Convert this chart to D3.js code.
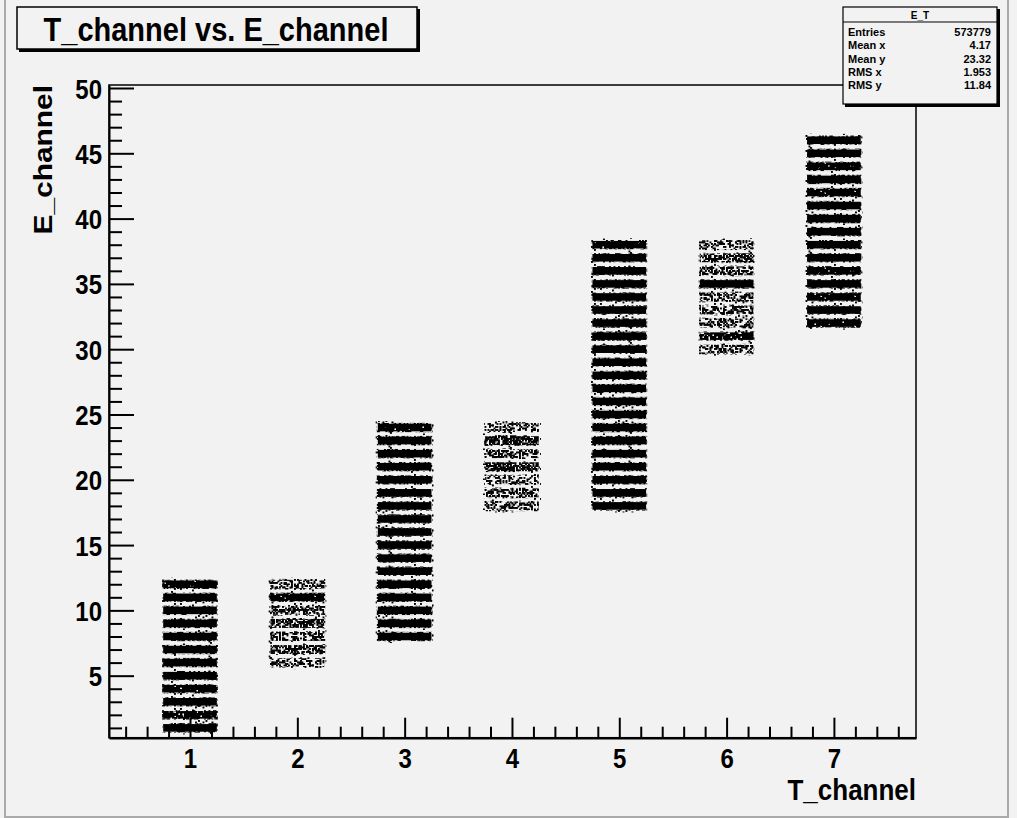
<!DOCTYPE html>
<html>
<head>
<meta charset="utf-8">
<script src="https://cdn.jsdelivr.net/npm/d3@7"></script>
<style>
  body { margin: 0; background: #f2f2f2; }
  svg { display: block; font-family: "Liberation Sans", Arial, sans-serif; font-weight: bold; }
</style>
</head>
<body>
<script>
// data
var tChannel = [1, 2, 3, 4, 5, 6, 7];
var eFirst = [1, 6, 8, 18, 18, 30, 32];       // lowest E_channel row of each column
// relative density of each E row (from eFirst upwards)
var densT1 = [1, 0.75, 1, 0.8, 1, 0.9, 1, 1, 1, 1, 1, 0.85];
var densT2 = [0.3, 0.5, 0.4, 0.55, 0.45, 0.85, 0.35];
var densT3 = [1, 1, 0.9, 1, 1, 0.9, 1, 1, 0.9, 1, 1, 1, 0.9, 1, 0.9, 1, 0.85];
var densT4 = [0.35, 0.4, 0.3, 0.55, 0.4, 0.6, 0.3];
var densT5 = [1, 1, 0.9, 1, 1, 1, 0.9, 1, 1, 1, 0.9, 1, 1, 1, 0.9, 1, 1, 0.9, 1, 1, 0.85];
var densT6 = [0.35, 0.7, 0.35, 0.4, 0.35, 0.9, 0.4, 0.5, 0.3];
var densT7 = [0.85, 1, 0.85, 1, 0.85, 1, 0.9, 1, 0.9, 1, 0.85, 1, 0.85, 1, 0.9];
var densities = [densT1, densT2, densT3, densT4, densT5, densT6, densT7];

var yMajor = [5, 10, 15, 20, 25, 30, 35, 40, 45, 50];
var xMajor = [1, 2, 3, 4, 5, 6, 7];

var statLabels = ["Entries", "Mean x", "Mean y", "RMS x", "RMS y"];
var statValues = ["573779", "4.17", "23.32", "1.953", "11.84"];

var W = 1017, H = 818;
var stretch = 1.15; // the picture is a bit taller than its fonts

var x = d3.scaleLinear().domain([0.245, 7.765]).range([109, 916]);
var y = d3.scaleLinear().domain([0.25, 50.23]).range([737.7, 85]);

var svg = d3.select("body").append("svg")
    .attr("width", W)
    .attr("height", H);

svg.append("rect").attr("width", W).attr("height", H).attr("fill", "#f2f2f2");
// canvas bevel
svg.append("rect")
    .attr("x", 5).attr("y", -3).attr("width", 1003).attr("height", 820)
    .attr("fill", "none").attr("stroke", "#aaa").attr("stroke-width", 2);

// speckle textures, one per density level
var defs = svg.append("defs");
function hash(i, j, s) {
  var v = Math.sin(i * 12.9898 + j * 78.233 + s * 37.719) * 43758.5453;
  return v - Math.floor(v);
}
var made = {};
function patternFor(level) {
  level = Math.round(level * 20) / 20;
  if (level >= 0.97) return "#000";
  var key = "p" + Math.round(level * 100);
  if (made[key]) return "url(#" + key + ")";
  made[key] = true;
  var g = level < 0.7 ? 1.5 : 2;
  var tw = 60, th = 15;
  var p = defs.append("pattern")
      .attr("id", key)
      .attr("patternUnits", "userSpaceOnUse")
      .attr("width", tw).attr("height", th);
  for (var i = 0; i < tw / g; i++) {
    for (var j = 0; j < th / g; j++) {
      if (hash(i, j, level * 10) < level) {
        p.append("rect").attr("x", i * g).attr("y", j * g)
          .attr("width", g + 0.4).attr("height", g + 0.4).attr("fill", "#000");
      }
    }
  }
  return "url(#" + key + ")";
}

var cells = [];
tChannel.forEach(function(t, k) {
  densities[k].forEach(function(d, r) {
    cells.push({t: t, e: eFirst[k] + r, d: d});
  });
});

// half heights of a row band: dense rows are tight, sparse ones spread out
function coreHalf(c) { return c.d >= 0.7 ? 0.29 : 0.34; }
function edgeHalf(c) { return coreHalf(c) + 0.07; }

var plot = svg.append("g");

// faint halo around each column
plot.selectAll("rect.halo")
    .data(tChannel)
    .enter()
    .append("rect")
    .attr("class", "halo")
    .attr("x", function(t) { return x(t - 0.27); })
    .attr("width", function(t) { return x(t + 0.27) - x(t - 0.27); })
    .attr("y", function(t, k) { return y(eFirst[k] + densities[k].length - 1 + 0.5); })
    .attr("height", function(t, k) { return y(eFirst[k] - 0.5) - y(eFirst[k] + densities[k].length - 0.5); })
    .attr("fill", patternFor(0.05));

// ragged edge of each row
plot.selectAll("rect.edge")
    .data(cells)
    .enter()
    .append("rect")
    .attr("class", "edge")
    .attr("x", function(c) { return x(c.t - 0.26); })
    .attr("width", function(c) { return x(c.t + 0.26) - x(c.t - 0.26); })
    .attr("y", function(c) { return y(c.e + edgeHalf(c)); })
    .attr("height", function(c) { return y(c.e - edgeHalf(c)) - y(c.e + edgeHalf(c)); })
    .attr("fill", function(c) { return patternFor(c.d * 0.3); });

// core of each row
plot.selectAll("rect.cell")
    .data(cells)
    .enter()
    .append("rect")
    .attr("class", "cell")
    .attr("x", function(c) { return x(c.t - 0.25); })
    .attr("width", function(c) { return x(c.t + 0.25) - x(c.t - 0.25); })
    .attr("y", function(c) { return y(c.e + coreHalf(c)); })
    .attr("height", function(c) { return y(c.e - coreHalf(c)) - y(c.e + coreHalf(c)); })
    .attr("fill", function(c) { return patternFor(c.d >= 0.7 ? Math.min(1, c.d + 0.08) : c.d); });

// frame
svg.append("rect")
    .attr("x", x.range()[0]).attr("y", y.range()[1])
    .attr("width", x.range()[1] - x.range()[0])
    .attr("height", y.range()[0] - y.range()[1])
    .attr("fill", "none").attr("stroke", "#000").attr("stroke-width", 1.5);

// y axis: minor then major ticks, pointing into the frame
var yMinor = d3.range(1, 51).filter(function(v) { return v % 5 !== 0; });
svg.append("g")
    .attr("transform", "translate(" + x.range()[0] + ",0)")
    .call(d3.axisLeft(y).tickValues(yMinor).tickSize(-13).tickSizeOuter(0).tickFormat(""))
    .call(function(g) { g.select(".domain").remove(); });
var yAx = svg.append("g")
    .attr("transform", "translate(" + x.range()[0] + ",0)")
    .call(d3.axisLeft(y).tickValues(yMajor).tickSize(-25).tickSizeOuter(0).tickPadding(7));
yAx.select(".domain").attr("stroke-width", 2);
yAx.selectAll("text")
    .attr("dy", null).attr("y", 0)
    .attr("font-size", 24).attr("font-weight", "bold")
    .attr("font-family", "Liberation Sans, Arial, sans-serif")
    .attr("transform", "translate(0,10) scale(1," + stretch + ")");

// x axis
var xMinor = d3.range(2, 39).map(function(v) { return v / 5; }).filter(function(v) { return Math.abs(v - Math.round(v)) > 0.01; });
svg.append("g")
    .attr("transform", "translate(0," + y.range()[0] + ")")
    .call(d3.axisBottom(x).tickValues(xMinor).tickSize(-11).tickSizeOuter(0).tickFormat(""))
    .call(function(g) { g.select(".domain").remove(); });
var xAx = svg.append("g")
    .attr("transform", "translate(0," + y.range()[0] + ")")
    .call(d3.axisBottom(x).tickValues(xMajor).tickSize(-20).tickSizeOuter(0));
xAx.select(".domain").attr("stroke-width", 2.5);
xAx.selectAll("text")
    .attr("dy", null).attr("y", 0)
    .attr("font-size", 24).attr("font-weight", "bold")
    .attr("font-family", "Liberation Sans, Arial, sans-serif")
    .attr("transform", "translate(0,30) scale(1," + stretch + ")");
svg.selectAll(".tick line").attr("stroke-width", 2);

// axis titles
svg.append("text")
    .attr("transform", "translate(916,800) scale(1," + stretch + ")")
    .attr("text-anchor", "end")
    .attr("font-size", 26)
    .text("T_channel");
svg.append("text")
    .attr("transform", "translate(52,85) rotate(-90) scale(" + stretch + ",1)")
    .attr("text-anchor", "end")
    .attr("font-size", 26)
    .text("E_channel");

// title box
svg.append("rect")
    .attr("x", 19).attr("y", 9).attr("width", 401).attr("height", 43)
    .attr("fill", "#000");
svg.append("rect")
    .attr("x", 17).attr("y", 7).attr("width", 400).attr("height", 42)
    .attr("fill", "#f2f2f2").attr("stroke", "#000").attr("stroke-width", 1.5);
svg.append("text")
    .attr("transform", "translate(216,41) scale(1," + stretch + ")")
    .attr("text-anchor", "middle")
    .attr("font-size", 29)
    .text("T_channel vs. E_channel");

// stats box
var sb = {x: 843, y: 7, w: 154, h: 97};
svg.append("rect")
    .attr("x", sb.x + 2).attr("y", sb.y + 2).attr("width", sb.w + 1).attr("height", sb.h + 1)
    .attr("fill", "#000");
svg.append("rect")
    .attr("x", sb.x).attr("y", sb.y).attr("width", sb.w).attr("height", sb.h)
    .attr("fill", "#f2f2f2").attr("stroke", "#000").attr("stroke-width", 1.2);
svg.append("line")
    .attr("x1", sb.x).attr("x2", sb.x + sb.w)
    .attr("y1", sb.y + 15).attr("y2", sb.y + 15)
    .attr("stroke", "#000").attr("stroke-width", 1.2);
svg.append("text")
    .attr("x", sb.x + sb.w / 2).attr("y", sb.y + 12)
    .attr("text-anchor", "middle").attr("font-size", 10)
    .text("E_T");
var rowY = d3.scalePoint().domain(statLabels).range([36, 89]);
svg.selectAll("text.slab")
    .data(statLabels)
    .enter()
    .append("text")
    .attr("class", "slab")
    .attr("x", sb.x + 5)
    .attr("y", function(d) { return rowY(d); })
    .attr("font-size", 11)
    .text(function(d) { return d; });
svg.selectAll("text.sval")
    .data(statValues)
    .enter()
    .append("text")
    .attr("class", "sval")
    .attr("x", sb.x + sb.w - 6)
    .attr("y", function(d, i) { return rowY(statLabels[i]); })
    .attr("text-anchor", "end")
    .attr("font-size", 11)
    .text(function(d) { return d; });
</script>
</body>
</html>
